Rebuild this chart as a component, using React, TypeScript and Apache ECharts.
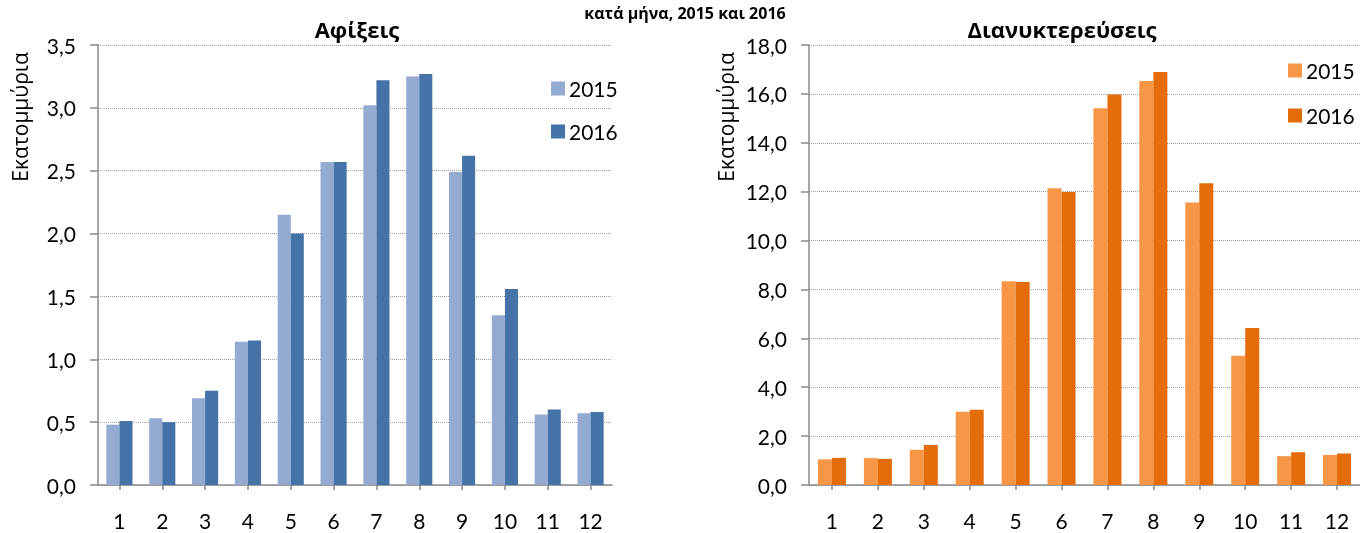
import React, { useEffect, useRef } from "react";
import * as echarts from "echarts";

const months = ["1", "2", "3", "4", "5", "6", "7", "8", "9", "10", "11", "12"];
const arrivals2015 = [0.48, 0.53, 0.69, 1.14, 2.15, 2.57, 3.02, 3.25, 2.49, 1.35, 0.56, 0.57];
const arrivals2016 = [0.51, 0.5, 0.75, 1.15, 2.0, 2.57, 3.22, 3.27, 2.62, 1.56, 0.6, 0.58];
const nights2015 = [1.05, 1.1, 1.44, 3.0, 8.34, 12.14, 15.41, 16.53, 11.56, 5.29, 1.18, 1.23];
const nights2016 = [1.11, 1.07, 1.64, 3.08, 8.3, 11.99, 15.98, 16.9, 12.34, 6.42, 1.34, 1.29];

const FONT = "Lato, 'Open Sans', 'Noto Sans', sans-serif";
const GFONT = "'Open Sans', 'Noto Sans', sans-serif";

const fmt = (v: number) => v.toFixed(1).replace(".", ",");

export default function App() {
  const ref = useRef<HTMLDivElement>(null);
  useEffect(() => {
    document.body.style.margin = "0";
    const chart = echarts.init(ref.current!, null, { renderer: "svg" });
    const axisLine = { show: true, lineStyle: { color: "#8a8a8a", width: 1.5 } };
    const xAxisBase = {
      type: "category" as const,
      data: months,
      axisLine,
      axisTick: { show: true, alignWithLabel: true, length: 5, lineStyle: { color: "#8a8a8a", width: 1.5 } },
      axisLabel: { color: "#000", fontSize: 21, fontFamily: FONT, margin: 25 },
      splitLine: { show: false },
    };
    const yAxisBase = {
      type: "value" as const,
      min: 0,
      axisLine,
      axisTick: { show: true, length: 8, lineStyle: { color: "#8a8a8a", width: 1.5 } },
      axisLabel: { color: "#000", fontSize: 21, fontFamily: FONT, margin: 22, formatter: fmt },
      splitLine: { show: true, lineStyle: { color: "#a0a0a0", type: "dotted", width: 1 } },
    };
    const barBase = { type: "bar" as const, barGap: "0%", barCategoryGap: "39%" };
    chart.setOption({
      animation: false,
      title: [
        {
          text: "κατά μήνα, 2015 και 2016",
          left: 680,
          top: 0,
          textAlign: "center",
          textStyle: { fontSize: 16, fontWeight: "bold", color: "#000", fontFamily: GFONT },
        },
        {
          text: "Αφίξεις",
          left: 352,
          top: 13,
          textAlign: "center",
          textStyle: { fontSize: 22, fontWeight: "bold", color: "#000", fontFamily: GFONT },
        },
        {
          text: "Διανυκτερεύσεις",
          left: 1057,
          top: 13,
          textAlign: "center",
          textStyle: { fontSize: 22, fontWeight: "bold", color: "#000", fontFamily: GFONT },
        },
      ],
      grid: [
        { left: 98, top: 45, width: 514, height: 440 },
        { left: 809, top: 45, width: 552, height: 440 },
      ],
      xAxis: [
        { ...xAxisBase, gridIndex: 0 },
        { ...xAxisBase, gridIndex: 1 },
      ],
      yAxis: [
        { ...yAxisBase, gridIndex: 0, max: 3.5, interval: 0.5 },
        { ...yAxisBase, gridIndex: 1, max: 18, interval: 2 },
      ],
      legend: [
        {
          data: ["Αφίξεις 2015", "Αφίξεις 2016"],
          formatter: (n: string) => n.slice(-4),
          orient: "vertical",
          left: 546,
          top: 73,
          itemWidth: 14,
          itemHeight: 14,
          itemGap: 22,
          icon: "rect",
          selectedMode: false,
          textStyle: { fontSize: 21, color: "#000", fontFamily: FONT, padding: [0, 0, 0, -1] },
        },
        {
          data: ["Διανυκτερεύσεις 2015", "Διανυκτερεύσεις 2016"],
          formatter: (n: string) => n.slice(-4),
          orient: "vertical",
          left: 1283,
          top: 55,
          itemWidth: 14,
          itemHeight: 14,
          itemGap: 24,
          icon: "rect",
          selectedMode: false,
          textStyle: { fontSize: 21, color: "#000", fontFamily: FONT, padding: [0, 0, 0, -1] },
        },
      ],
      graphic: [
        {
          type: "text",
          x: 20,
          y: 117,
          rotation: Math.PI / 2,
          style: {
            text: "Εκατομμύρια",
            fontSize: 21,
            fontFamily: GFONT,
            fill: "#000",
            align: "center",
            verticalAlign: "middle",
          },
        },
        {
          type: "text",
          x: 726,
          y: 117,
          rotation: Math.PI / 2,
          style: {
            text: "Εκατομμύρια",
            fontSize: 21,
            fontFamily: GFONT,
            fill: "#000",
            align: "center",
            verticalAlign: "middle",
          },
        },
      ],
      series: [
        { ...barBase, name: "Αφίξεις 2015", xAxisIndex: 0, yAxisIndex: 0, data: arrivals2015, itemStyle: { color: "#95aad1" } },
        { ...barBase, name: "Αφίξεις 2016", xAxisIndex: 0, yAxisIndex: 0, data: arrivals2016, itemStyle: { color: "#4573a8" } },
        { ...barBase, name: "Διανυκτερεύσεις 2015", xAxisIndex: 1, yAxisIndex: 1, data: nights2015, itemStyle: { color: "#f79646" } },
        { ...barBase, name: "Διανυκτερεύσεις 2016", xAxisIndex: 1, yAxisIndex: 1, data: nights2016, itemStyle: { color: "#e46c0a" } },
      ],
    });
    return () => chart.dispose();
  }, []);
  return <div ref={ref} style={{ position: "fixed", left: 0, top: 0, width: 1360, height: 533 }} />;
}
